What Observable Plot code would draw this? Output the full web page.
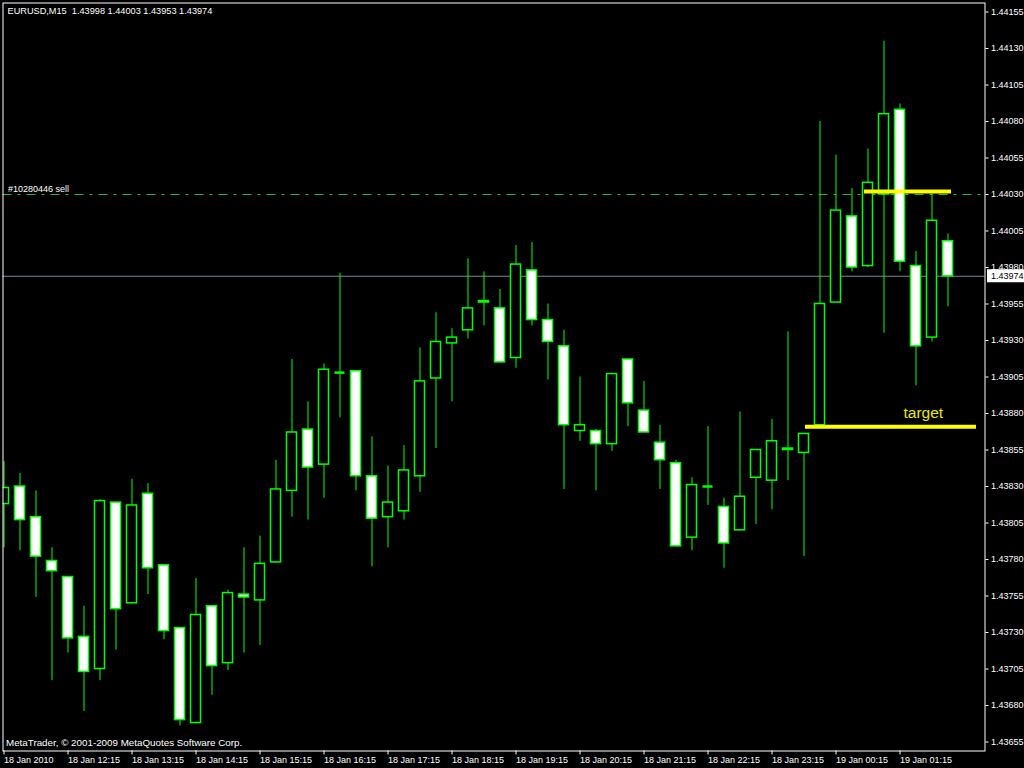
<!DOCTYPE html>
<html>
<head>
<meta charset="utf-8">
<script src="https://cdn.jsdelivr.net/npm/d3@7"></script>
<script src="https://cdn.jsdelivr.net/npm/@observablehq/plot@0.6"></script>
<style>
  html, body { margin: 0; padding: 0; background: #000; overflow: hidden; }
  svg { display: block; }
</style>
</head>
<body>
<div id="chart"></div>
<script>
// EURUSD 15-minute bars, 18 Jan 2010 11:15 onwards (one entry per bar)
const symbol = "EURUSD,M15";
const opens = [
  1.43818, 1.43830, 1.43809, 1.43779, 1.43768, 1.43727, 1.43705, 1.43819, 1.43750, 1.43825,
  1.43776, 1.43733, 1.43668, 1.43748, 1.43709, 1.43756, 1.43752, 1.43778, 1.43827, 1.43869,
  1.43845, 1.43908, 1.43909, 1.43837, 1.43809, 1.43813, 1.43837, 1.43904, 1.43928, 1.43937,
  1.43956, 1.43952, 1.43918, 1.43978, 1.43944, 1.43926, 1.43868, 1.43868, 1.43859, 1.43917,
  1.43882, 1.43860, 1.43846, 1.43795, 1.43830, 1.43816, 1.43800, 1.43836, 1.43834, 1.43856,
  1.43853, 1.43872, 1.43956, 1.44015, 1.43981, 1.44030, 1.44088, 1.43981, 1.43932, 1.43998
];
const highs = [
  1.43847, 1.43839, 1.43827, 1.43788, 1.43768, 1.43748, 1.43821, 1.43819, 1.43835, 1.43832,
  1.43776, 1.43733, 1.43767, 1.43748, 1.43759, 1.43788, 1.43796, 1.43848, 1.43917, 1.43888,
  1.43914, 1.43976, 1.43909, 1.43864, 1.43844, 1.43858, 1.43925, 1.43949, 1.43938, 1.43986,
  1.43977, 1.43965, 1.43995, 1.43997, 1.43955, 1.43937, 1.43905, 1.43869, 1.43907, 1.43917,
  1.43902, 1.43872, 1.43848, 1.43836, 1.43871, 1.43822, 1.43881, 1.43855, 1.43876, 1.43936,
  1.43866, 1.44080, 1.44057, 1.44034, 1.44061, 1.44135, 1.44092, 1.43991, 1.44031, 1.44003
];
const lows = [
  1.43788, 1.43786, 1.43754, 1.43697, 1.43716, 1.43676, 1.43697, 1.43718, 1.43750, 1.43756,
  1.43725, 1.43666, 1.43668, 1.43687, 1.43704, 1.43716, 1.43721, 1.43778, 1.43809, 1.43807,
  1.43822, 1.43877, 1.43827, 1.43775, 1.43788, 1.43807, 1.43826, 1.43856, 1.43888, 1.43931,
  1.43940, 1.43915, 1.43911, 1.43940, 1.43903, 1.43828, 1.43861, 1.43827, 1.43854, 1.43871,
  1.43867, 1.43828, 1.43789, 1.43786, 1.43817, 1.43774, 1.43800, 1.43804, 1.43814, 1.43834,
  1.43782, 1.43872, 1.43956, 1.43977, 1.43980, 1.43935, 1.43977, 1.43899, 1.43929, 1.43953
];
const closes = [
  1.43829, 1.43807, 1.43782, 1.43772, 1.43726, 1.43703, 1.43820, 1.43746, 1.43817, 1.43774,
  1.43731, 1.43670, 1.43742, 1.43707, 1.43757, 1.43754, 1.43777, 1.43828, 1.43867, 1.43843,
  1.43910, 1.43908, 1.43837, 1.43808, 1.43819, 1.43841, 1.43902, 1.43929, 1.43932, 1.43952,
  1.43957, 1.43915, 1.43982, 1.43944, 1.43929, 1.43872, 1.43872, 1.43859, 1.43907, 1.43887,
  1.43867, 1.43848, 1.43789, 1.43831, 1.43830, 1.43791, 1.43823, 1.43855, 1.43861, 1.43855,
  1.43866, 1.43955, 1.44019, 1.43980, 1.44038, 1.44085, 1.43984, 1.43926, 1.44012, 1.43974
];

// Price scale ticks (right side)
const priceTicks = [
  1.43655, 1.43680, 1.43705, 1.43730, 1.43755, 1.43780, 1.43805, 1.43830, 1.43855, 1.43880,
  1.43905, 1.43930, 1.43955, 1.43980, 1.44005, 1.44030, 1.44055, 1.44080, 1.44105, 1.44130, 1.44155
];
// Time scale ticks: bar index and label
const timeTickBars = [0, 4, 8, 12, 16, 20, 24, 28, 32, 36, 40, 44, 48, 52, 56];
const timeTickLabels = [
  "18 Jan 2010", "18 Jan 12:15", "18 Jan 13:15", "18 Jan 14:15", "18 Jan 15:15",
  "18 Jan 16:15", "18 Jan 17:15", "18 Jan 18:15", "18 Jan 19:15", "18 Jan 20:15",
  "18 Jan 21:15", "18 Jan 22:15", "18 Jan 23:15", "19 Jan 00:15", "19 Jan 01:15"
];

// Open order and drawn objects
const orderLabel = "#10280446 sell";
const orderPrice = 1.44030;
const trendFrom = [53.78, 50.09];   // bar position where each yellow line starts
const trendTo = [59.22, 60.78];     // bar position where each yellow line ends
const trendPrice = [1.44032, 1.43871];
const targetText = "target";
const targetBar = 56.22;
const targetPrice = 1.43871;
const copyright = "MetaTrader, \u00a9 2001-2009 MetaQuotes Software Corp.";

const bars = opens.map((o, i) => ({i, open: o, high: highs[i], low: lows[i], close: closes[i]}));
const last = bars[bars.length - 1];
const header = `${symbol}  ${[last.open, last.high, last.low, last.close].map(v => v.toFixed(5)).join(" ")}`;
const trendLines = trendPrice.map((p, i) => ({price: p, from: trendFrom[i], to: trendTo[i]}));

const green = "#00ff00";
const half = 5 / 16; // candle body half-width, in bars

const chart = Plot.plot({
  width: 1024,
  height: 768,
  marginLeft: 2.5,
  marginRight: 39.5,
  marginTop: 2.5,
  marginBottom: 17.5,
  style: {background: "#000", color: "#fff", fontFamily: "'Liberation Sans', Arial, sans-serif", fontSize: "9px"},
  x: {domain: [-0.0625, 61.3125], axis: null},
  y: {domain: [1.4364884, 1.4416116], axis: null},
  marks: [
    // order level and bid line
    Plot.ruleY([orderPrice], {y: d => d, stroke: "#20c020", strokeDasharray: "9,6,3,6"}),
    Plot.ruleY([last.close], {y: d => d, stroke: "#778899"}),
    // candles
    Plot.ruleX(bars, {x: "i", y1: "low", y2: "high", stroke: green, clip: true}),
    Plot.rect(bars.filter(d => d.open !== d.close), {
      x1: d => d.i - half, x2: d => d.i + half, y1: "open", y2: "close",
      fill: d => d.close < d.open ? "#ffffff" : "#000000",
      stroke: green, strokeWidth: 1.5, clip: true
    }),
    Plot.ruleY(bars.filter(d => d.open === d.close), {
      y: "close", x1: d => d.i - half, x2: d => d.i + half, stroke: green, strokeWidth: 2.5, clip: true
    }),
    // yellow lines and label
    Plot.ruleY(trendLines, {y: "price", x1: "from", x2: "to", stroke: "#ffff00", strokeWidth: 4}),
    Plot.text([targetText], {
      x: () => targetBar, y: () => targetPrice, text: d => d, dy: -9,
      textAnchor: "start", lineAnchor: "bottom", fill: "#e8e800", fontSize: 15.5
    }),
    // order label
    Plot.text([orderLabel], {
      y: () => orderPrice, text: d => d, frameAnchor: "left", dx: 5, dy: -2,
      textAnchor: "start", lineAnchor: "bottom", fill: "#fff"
    }),
    // header and copyright
    Plot.text([header], {
      text: d => d, frameAnchor: "top-left", dx: 4.5, dy: 4.5,
      textAnchor: "start", lineAnchor: "top", fill: "#fff", fontSize: 9.2
    }),
    Plot.text([copyright], {
      text: d => d, frameAnchor: "bottom-left", dx: 3, dy: -5.5,
      textAnchor: "start", lineAnchor: "bottom", fill: "#fff", fontSize: 9.8
    }),
    Plot.frame({stroke: "#fff"}),
    // axes
    Plot.axisY({
      anchor: "right", ticks: priceTicks, tickFormat: d => d.toFixed(5),
      tickSize: 3, tickPadding: 3, label: null, stroke: "#fff", fill: "#fff"
    }),
    Plot.axisX({
      anchor: "bottom", ticks: timeTickBars,
      tickFormat: d => timeTickLabels[timeTickBars.indexOf(d)],
      tickSize: 4, tickPadding: 1.5, textAnchor: "start", label: null, stroke: "#fff", fill: "#fff"
    }),
    // current bid price tag
    Plot.text([last.close], {
      y: d => d, text: d => d.toFixed(5), frameAnchor: "right", dx: 6,
      textAnchor: "start", fill: "#000", ariaDescription: "bid-tag"
    })
  ]
});

document.getElementById("chart").append(chart);

// white box behind the bid price tag
const tagText = last.close.toFixed(5);
const tagNode = Array.from(chart.querySelectorAll("text"))
  .find(t => t.textContent === tagText && t.closest("g").getAttribute("fill") === "#000");
const tagGroup = tagNode ? tagNode.closest("g") : null;
const yBid = chart.scale("y").apply(last.close);
const box = document.createElementNS("http://www.w3.org/2000/svg", "rect");
box.setAttribute("x", 1024 - 39.5 + 2.5);
box.setAttribute("y", yBid - 6.5);
box.setAttribute("width", 40);
box.setAttribute("height", 13);
box.setAttribute("fill", "#fff");
if (tagGroup) tagGroup.parentNode.insertBefore(box, tagGroup);
else chart.insertBefore(box, chart.lastChild);
</script>
</body>
</html>
